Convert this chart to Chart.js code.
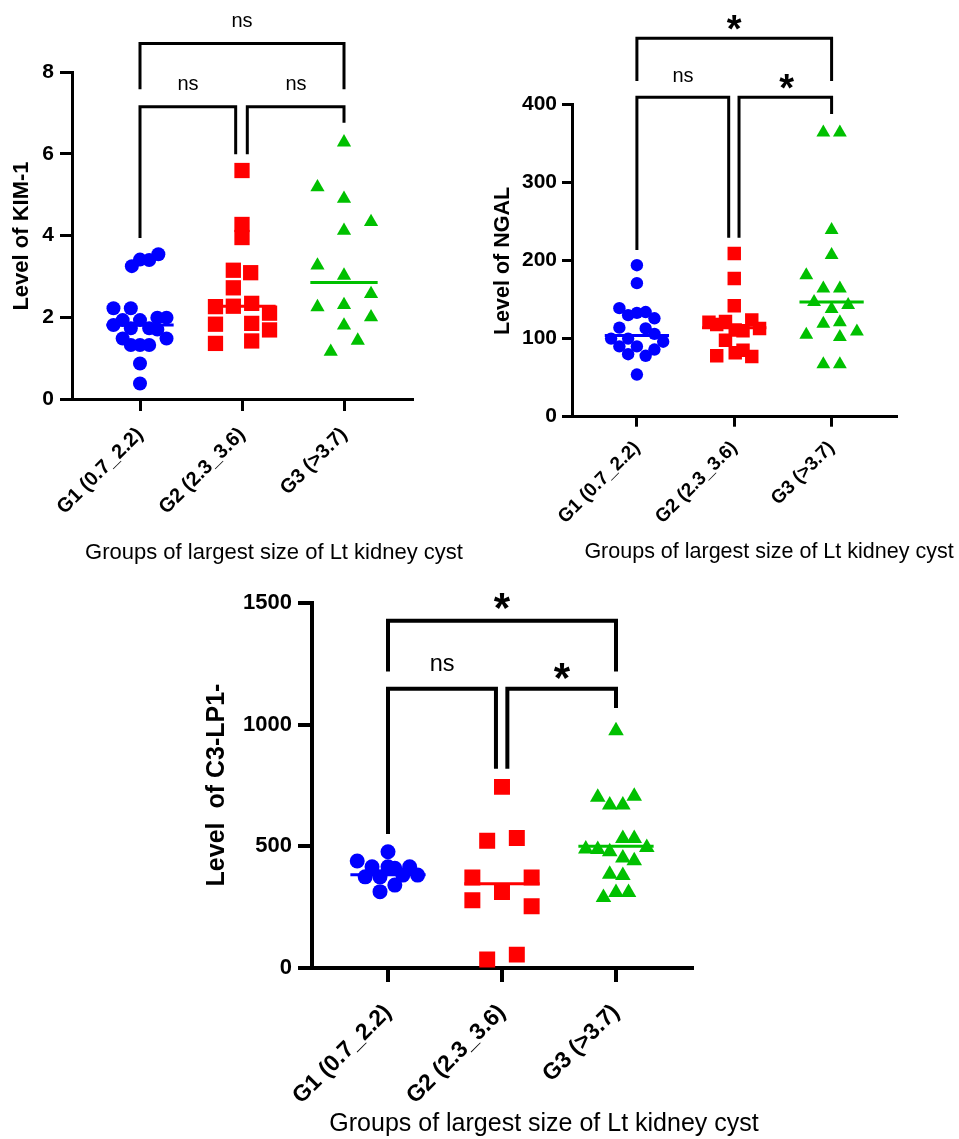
<!DOCTYPE html>
<html>
<head>
<meta charset="utf-8">
<script src="https://cdn.jsdelivr.net/npm/chart.js@4.4.1/dist/chart.umd.min.js"></script>
<style>
  body { margin: 0; background: #fff; width: 959px; height: 1139px; position: relative; overflow: hidden; }
  canvas { position: absolute; }
</style>
</head>
<body>
<canvas id="kim" width="480" height="570" style="left:0;top:0"></canvas>
<canvas id="ngal" width="479" height="570" style="left:480px;top:0"></canvas>
<canvas id="c3" width="640" height="569" style="left:160px;top:570px"></canvas>
<script>
const FONT = '"Liberation Sans", Arial, sans-serif';

const groups = ["G1 (0.7_2.2)", "G2 (2.3_3.6)", "G3 (>3.7)"];
const xTitle = "Groups of largest size of Lt kidney cyst";

// KIM-1 values and horizontal swarm offsets (in group widths)
const kimG1 = [3.25, 3.41, 3.40, 3.54, 2.22, 2.22, 1.81, 1.93, 1.93, 1.99, 1.99, 1.73, 1.73, 1.70, 1.48, 1.48, 1.32, 1.32, 1.32, 0.87, 0.38];
const kimG1Jit = [-0.08, 0, 0.09, 0.18, -0.26, -0.09, -0.26, -0.17, 0, 0.17, 0.26, -0.09, 0.09, 0.17, -0.17, 0.26, -0.09, 0, 0.09, 0, 0];
const kimG2 = [5.59, 4.27, 3.95, 3.15, 3.09, 2.72, 2.26, 2.27, 2.34, 2.10, 1.83, 1.85, 1.69, 1.36, 1.42];
const kimG2Jit = [0, 0, 0, -0.085, 0.085, -0.085, -0.26, -0.085, 0.095, 0.27, -0.26, 0.095, 0.27, -0.26, 0.095];
const kimG3 = [6.28, 5.18, 4.90, 4.33, 4.12, 3.27, 3.02, 2.57, 2.25, 2.30, 2.00, 1.80, 1.43, 1.16];
const kimG3Jit = [0, -0.26, 0, 0.265, 0, -0.26, 0, 0.265, -0.26, 0, 0.265, 0, 0.135, -0.13];
const kimMedians = [1.81, 2.27, 2.85];

// NGAL
const ngalG1 = [194, 171, 139, 114, 130, 133, 134, 126, 113, 106, 96, 100, 100, 90, 90, 86, 80, 78, 54];
const ngalG1Jit = [0, 0, -0.18, -0.18, -0.09, 0, 0.09, 0.18, 0.09, 0.18, 0.27, -0.09, -0.265, -0.18, 0, 0.18, -0.09, 0.09, 0];
const ngalG2 = [209, 177, 142, 121, 118, 122, 124, 113, 111, 110, 98, 78, 82, 85, 77];
const ngalG2Jit = [0, 0, 0, -0.26, -0.18, -0.09, 0.18, 0.26, 0.01, 0.09, -0.09, -0.18, 0.01, 0.09, 0.18];
const ngalG3 = [364, 364, 239, 207, 181, 164, 164, 147, 138, 143, 119, 121, 105, 102, 109, 67, 67];
const ngalG3Jit = [-0.085, 0.085, 0, 0, -0.26, -0.085, 0.085, -0.18, 0, 0.17, -0.085, 0.085, -0.26, 0.085, 0.26, -0.085, 0.085];
const ngalMedians = [104, 114, 147];

// C3-LP1-
const c3G1 = [478, 440, 416, 416, 410, 416, 375, 375, 382, 382, 341, 314];
const c3G1Jit = [0, -0.27, -0.14, 0, 0.06, 0.19, -0.2, -0.07, 0.13, 0.26, 0.06, -0.07];
const c3G2 = [745, 523, 535, 372, 372, 313, 279, 254, 35, 55];
const c3G2Jit = [0, -0.13, 0.13, -0.26, 0.26, 0, -0.26, 0.26, -0.13, 0.13];
const c3G3 = [976, 702, 706, 670, 670, 533, 533, 489, 487, 478, 496, 452, 441, 386, 380, 290, 311, 311];
const c3G3Jit = [0, -0.16, 0.16, -0.055, 0.06, 0.06, 0.16, -0.265, -0.16, -0.055, 0.27, 0.06, 0.16, -0.055, 0.06, -0.11, 0, 0.11];
const c3Medians = [384, 347, 501];

// significance brackets (data units)
const kimBrackets = [
  { from: 1, to: 3, y: 8.70, left: 7.58, right: 7.58, text: "ns", ty: 9.23 },
  { from: 1, to: 1.938, y: 7.15, left: 3.94, right: 5.99, text: "ns", tx: 1.47, ty: 7.68 },
  { from: 2.052, to: 3, y: 7.15, left: 5.99, right: 6.76, text: "ns", tx: 2.53, ty: 7.68 },
];
const ngalBrackets = [
  { from: 1, to: 3, y: 484.5, left: 429.8, right: 429.8, text: "*", ty: 508 },
  { from: 1, to: 1.943, y: 409, left: 213.4, right: 229, text: "ns", tx: 1.473, ty: 435 },
  { from: 2.049, to: 3, y: 409, left: 229, right: 387.6, text: "*", tx: 2.537, ty: 432 },
];
const c3Brackets = [
  { from: 1, to: 3, y: 1428, left: 1220, right: 1220, text: "*", ty: 1523 },
  { from: 1, to: 1.947, y: 1148.5, left: 551.6, right: 819, text: "ns", tx: 1.475, ty: 1247 },
  { from: 2.047, to: 3, y: 1148.5, left: 819, right: 1069, text: "*", tx: 2.525, ty: 1235 },
];

const colors = ["#0000ff", "#ff0000", "#00c000"];
const shapes = ["circle", "rect", "triangle"];

const marks = {
  id: "marks",
  afterDraw(chart, args, o) {
    const { ctx } = chart;
    const x = chart.scales.x;
    const y = chart.scales.y;
    ctx.save();
    ctx.strokeStyle = "#000";
    ctx.fillStyle = "#000";
    ctx.lineWidth = o.bw;
    o.brackets.forEach((b) => {
      const x1 = x.getPixelForValue(b.from);
      const x2 = x.getPixelForValue(b.to);
      const yy = y.getPixelForValue(b.y);
      ctx.beginPath();
      ctx.moveTo(x1, y.getPixelForValue(b.left));
      ctx.lineTo(x1, yy);
      ctx.lineTo(x2, yy);
      ctx.lineTo(x2, y.getPixelForValue(b.right));
      ctx.stroke();
      const tx = x.getPixelForValue(b.tx ?? (b.from + b.to) / 2);
      const ty = y.getPixelForValue(b.ty);
      ctx.textAlign = "center";
      ctx.textBaseline = "alphabetic";
      if (b.text === "*") {
        ctx.font = `bold ${o.star}px ${FONT}`;
        ctx.fillText("*", tx, ty + 0.58 * o.star);
      } else {
        ctx.font = `${o.ns}px ${FONT}`;
        ctx.fillText(b.text, tx, ty + 0.26 * o.ns);
      }
    });
    ctx.textAlign = "center";
    ctx.textBaseline = "middle";
    ctx.font = `${o.xtSize}px ${FONT}`;
    ctx.fillText(xTitle, o.xtPos[0], o.xtPos[1]);
    ctx.translate(o.ytPos[0], o.ytPos[1]);
    ctx.rotate(-Math.PI / 2);
    ctx.font = `bold ${o.ytSize}px ${FONT}`;
    ctx.fillText(o.yTitle, 0, 0);
    ctx.restore();
  },
};

function buildChart(id, o) {
  const sets = [];
  o.values.forEach((vals, g) => {
    sets.push({
      data: vals.map((v, i) => ({ x: g + 1 + o.jitter[g][i], y: v })),
      pointStyle: shapes[g],
      pointRadius: o.radius[g],
      pointBackgroundColor: colors[g],
      pointBorderWidth: 0,
      showLine: false,
    });
  });
  o.medians.forEach((m, g) => {
    sets.push({
      data: [{ x: g + 1 - 0.33, y: m }, { x: g + 1 + 0.33, y: m }],
      showLine: true,
      borderColor: colors[g],
      borderWidth: 3,
      pointRadius: 0,
    });
  });
  const tickFont = { family: FONT, weight: "bold", size: o.ytick };
  return new Chart(document.getElementById(id), {
    type: "scatter",
    data: { datasets: sets },
    options: {
      responsive: false,
      animation: false,
      layout: { padding: o.pad },
      plugins: {
        legend: { display: false },
        tooltip: { enabled: false },
        marks: o.marks,
      },
      scales: {
        x: {
          type: "linear",
          min: 1 / 3,
          max: 11 / 3,
          afterBuildTicks: (s) => {
            s.ticks = [1, 2, 3].map((v) => ({ value: v }));
          },
          afterFit: (s) => {
            s.height = o.xh;
          },
          ticks: {
            minRotation: 45,
            maxRotation: 45,
            autoSkip: false,
            color: "#000",
            padding: o.xpad,
            font: { family: FONT, weight: "bold", size: o.xtick },
            callback: (v) => groups[Math.round(v) - 1],
          },
          grid: { drawOnChartArea: false, color: "#000", lineWidth: o.lw, tickLength: o.tl },
          border: { color: "#000", width: o.lw },
        },
        y: {
          min: 0,
          max: o.ymax,
          afterFit: (s) => {
            s.width = o.yw;
          },
          ticks: { stepSize: o.step, color: "#000", padding: o.ypad, font: tickFont, callback: (v) => String(v) },
          grid: { drawOnChartArea: false, color: "#000", lineWidth: o.lw, tickLength: o.tl },
          border: { color: "#000", width: o.lw },
        },
      },
    },
    plugins: [marks],
  });
}

buildChart("kim", {
  values: [kimG1, kimG2, kimG3],
  jitter: [kimG1Jit, kimG2Jit, kimG3Jit],
  medians: kimMedians,
  radius: [7, 10.8, 8.2],
  pad: { left: 12, right: 68, top: 72, bottom: 0 },
  yw: 60, xh: 171, ymax: 8, step: 2,
  ytick: 21, xtick: 20, ypad: 6, xpad: 12, lw: 3, tl: 12,
  marks: {
    brackets: kimBrackets, bw: 3, ns: 20, star: 38,
    xtSize: 22, xtPos: [274, 553],
    yTitle: "Level of KIM-1", ytSize: 22, ytPos: [22, 236],
  },
});

buildChart("ngal", {
  values: [ngalG1, ngalG2, ngalG3],
  jitter: [ngalG1Jit, ngalG2Jit, ngalG3Jit],
  medians: ngalMedians,
  radius: [6.2, 9.5, 8],
  pad: { left: 32, right: 62.5, top: 104.3, bottom: 0 },
  yw: 60, xh: 153.3, ymax: 400, step: 100,
  ytick: 21, xtick: 19, ypad: 5, xpad: 10, lw: 3, tl: 10,
  marks: {
    brackets: ngalBrackets, bw: 3, ns: 20, star: 38,
    xtSize: 21.5, xtPos: [289, 552],
    yTitle: "Level of NGAL", ytSize: 21.5, ytPos: [23, 261],
  },
});

buildChart("c3", {
  values: [c3G1, c3G2, c3G3],
  jitter: [c3G1Jit, c3G2Jit, c3G3Jit],
  medians: c3Medians,
  radius: [7.5, 11.3, 9],
  pad: { left: 82, right: 108, top: 33.3, bottom: 0 },
  yw: 70, xh: 171, ymax: 1500, step: 500,
  ytick: 22, xtick: 23, ypad: 6, xpad: 17, lw: 4, tl: 14,
  marks: {
    brackets: c3Brackets, bw: 4, ns: 23.5, star: 42,
    xtSize: 25, xtPos: [384, 554],
    yTitle: "Level  of C3-LP1-", ytSize: 25, ytPos: [57, 215],
  },
});
</script>
</body>
</html>
